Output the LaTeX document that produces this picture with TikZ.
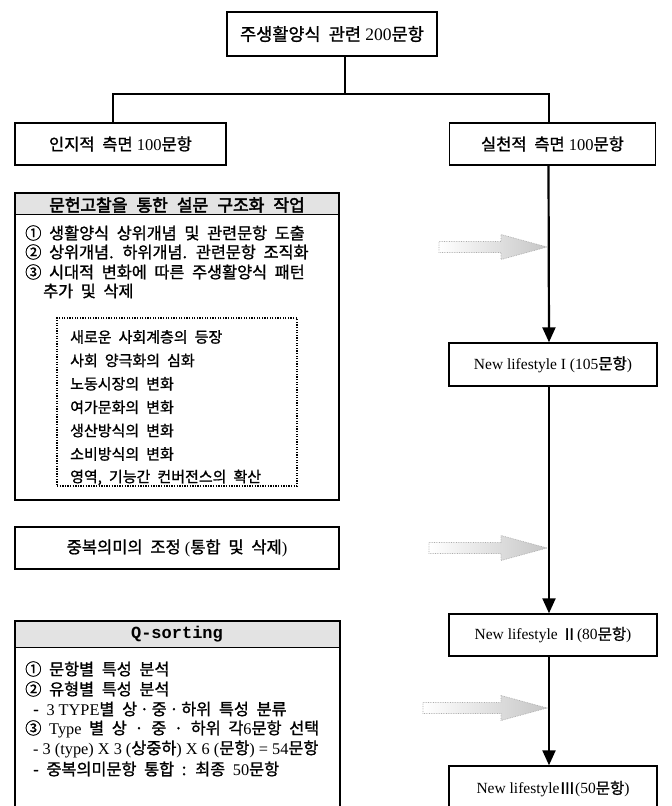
\documentclass[tikz,border=0pt]{standalone}
\usepackage{fontspec}
\setmainfont{Liberation Serif}
\setmonofont{Liberation Mono}
\newfontfamily\kr[WordSpace=2.1,FakeBold=1.2]{Noto Sans CJK KR}
\newfontfamily\krb[WordSpace=2.4,FakeBold=2.6]{Noto Sans CJK KR}
\usetikzlibrary{arrows.meta,calc}
\newcommand\K[1]{{\kr #1}}
\newcommand\grayarr[2]{%
  \shadedraw[left color=white,right color=gray!45,draw=gray!65,densely dotted,line width=0.7pt]
   ($(#1)+(-#2,-5.5)$) -- ($(#1)+(-46,-5.5)$) -- ($(#1)+(-46,-12.5)$) -- (#1)
   -- ($(#1)+(-46,12.5)$) -- ($(#1)+(-46,5.5)$) -- ($(#1)+(-#2,5.5)$) -- cycle;}
\begin{document}
\begin{tikzpicture}[x=1pt,y=-1pt,
  box/.style={draw,line width=1.4pt,inner sep=0pt,font=\fontsize{16.5}{18}\selectfont},
  nbox/.style={draw,line width=1.4pt,inner sep=0pt,font=\fontsize{15.5}{18}\selectfont},
  conn/.style={line width=2.2pt},
  tip/.style={-{Triangle[length=15pt,width=13pt]}},
  band/.style={fill=gray!22},
  lst/.style={anchor=west,inner sep=0pt,font=\kr\fontsize{16.3}{18}\selectfont},
  itm/.style={anchor=west,inner sep=0pt,font=\kr\fontsize{15}{17}\selectfont},
  dotbox/.style={draw,line width=1.8pt,dash pattern=on 1.3pt off 1.3pt,inner sep=0pt}]
\useasboundingbox (0,0) rectangle (672,806);
\fill[white] (0,0) rectangle (672,806);
% top row
\node[box,minimum width=210,minimum height=44,font=\fontsize{17.5}{19}\selectfont] (T) at (332,34) {\K{주생활양식 관련} 200\K{문항}};
\node[box,minimum width=211,minimum height=42] (L) at (120.5,144) {\K{인지적 측면} 100\K{문항}};
\node[box,minimum width=206,minimum height=42] (R) at (552.5,144) {\K{실천적 측면} 100\K{문항}};
\coordinate (J) at (345,94);
\draw[conn] ([xshift=13pt]T.south) -- (J);
\draw[conn] ([xshift=-7.5pt]L.north) |- (J) -| ([xshift=-3.5pt]R.north);
% box A
\fill[band] (15,193) rectangle (339,215);
\node[box,minimum width=324,minimum height=307] (A) at (177,346.5) {};
\draw[line width=1pt] ([yshift=-22pt]A.north west) -- ([yshift=-22pt]A.north east);
\node[inner sep=0pt,font=\krb\fontsize{17}{18}\selectfont] (Ah) at (177,205) {문헌고찰을 통한 설문 구조화 작업};
\node[lst] (A1) at (25,233) {① 생활양식 상위개념 및 관련문항 도출};
\node[lst] (A2) at (25,252) {② 상위개념. 하위개념. 관련문항 조직화};
\node[lst] (A3) at (25,272) {③ 시대적 변화에 따른 주생활양식 패턴};
\node[lst] (A4) at (43,291) {추가 및 삭제};
\node[dotbox,minimum width=240,minimum height=168] (D) at (177,402) {};
\node[itm] (D1) at (70,337) {새로운 사회계층의 등장};
\node[itm] (D2) at (70,360.4) {사회 양극화의 심화};
\node[itm] (D3) at (70,383.8) {노동시장의 변화};
\node[itm] (D4) at (70,407.2) {여가문화의 변화};
\node[itm] (D5) at (70,430.6) {생산방식의 변화};
\node[itm] (D6) at (70,454) {소비방식의 변화};
\node[itm] (D7) at (70,477.4) {영역, 기능간 컨버전스의 확산};
% box B
\node[box,minimum width=324,minimum height=42] (B) at (177,548) {\K{중복의미의 조정} (\K{통합 및 삭제})};
% box Q
\fill[band] (15,621) rectangle (340,648);
\node[box,minimum width=325,minimum height=191] (Q) at (177.5,716.5) {};
\draw[line width=1pt] ([yshift=-27pt]Q.north west) -- ([yshift=-27pt]Q.north east);
\node[inner sep=0pt,font=\ttfamily\bfseries\fontsize{17}{19}\selectfont] (Qh) at (177,634) {Q-sorting};
\node[lst] (Q1) at (25,669) {① 문항별 특성 분석};
\node[lst] (Q2) at (25,689) {② 유형별 특성 분석};
\node[lst] (Q3) at (33,709) {- {\rmfamily 3 TYPE}별 상{\,}·{\,}중{\,}·{\,}하위 특성 분류};
\node[lst] (Q4) at (25,729) {③ {\rmfamily Type} 별 상 · 중 · 하위 각{\rmfamily 6}문항 선택};
\node[lst] (Q5) at (33,749) {{\rmfamily - 3 (type) X 3 (}상중하{\rmfamily ) X 6 (}문항{\rmfamily ) = 54}문항};
\node[lst] (Q6) at (33,769) {- 중복의미문항 통합 : 최종 {\rmfamily 50}문항};
% right column
\node[nbox,minimum width=208,minimum height=43] (N1) at (553,364.5) {New lifestyle I (105\K{문항})};
\node[nbox,minimum width=208,minimum height=42] (N2) at (553,635) {New lifestyle \K{Ⅱ}(80\K{문항})};
\node[nbox,minimum width=208,minimum height=46] (N3) at (553,789) {New lifestyle\K{Ⅲ}(50\K{문항})};
\draw[conn,tip] ([xshift=-4pt]R.south) -- ([xshift=-4pt]N1.north);
\draw[conn,tip] ([xshift=-4pt]N1.south) -- ([xshift=-4pt]N2.north);
\draw[conn,tip] ([xshift=-4pt]N2.south) -- ([xshift=-4pt]N3.north);
% gray arrows
\coordinate (g1) at (547,247);
\coordinate (g2) at (547,548);
\coordinate (g3) at (547,708);
\grayarr{g1}{108}
\grayarr{g2}{118}
\grayarr{g3}{124}
\end{tikzpicture}
\end{document}
